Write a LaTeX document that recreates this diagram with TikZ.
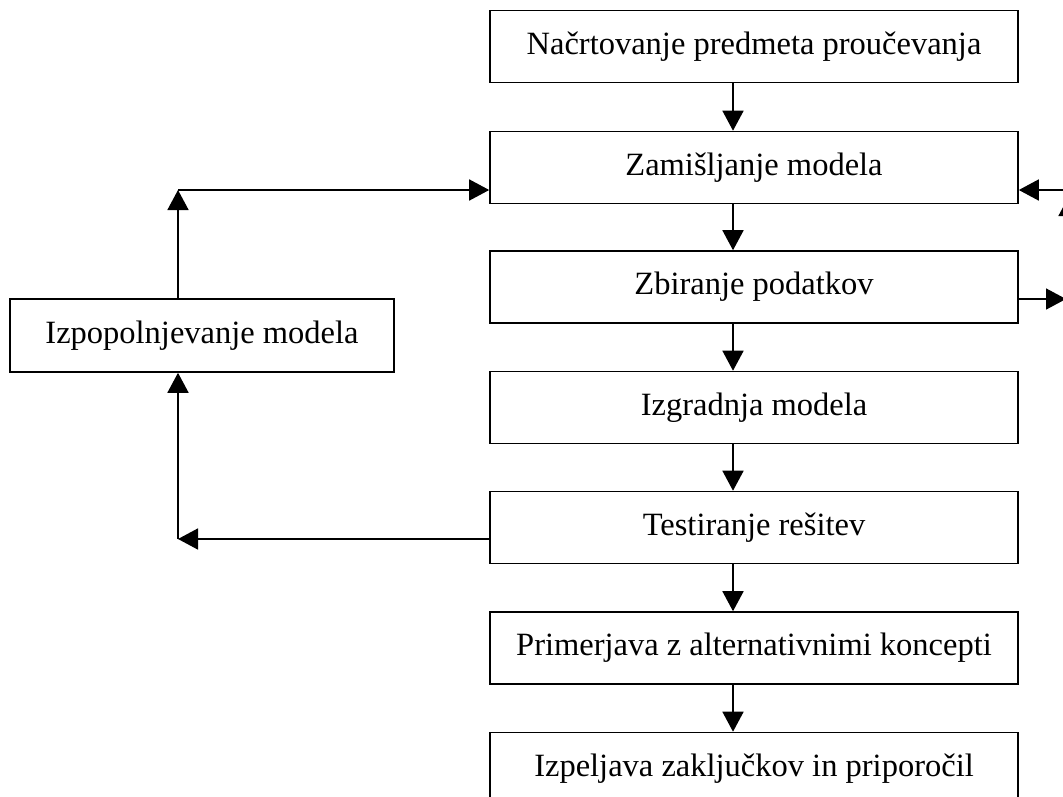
\documentclass[tikz,border=0pt]{standalone}
\usepackage{fontspec}
\setmainfont{Liberation Serif}
\usetikzlibrary{arrows.meta}

\tikzset{
  stepbox/.style={draw, line width=1.6pt, minimum width=528pt, minimum height=72pt,
    inner sep=0pt, font=\fontsize{32.5}{39}\selectfont},
  arr/.style={line width=1.6pt, -{Triangle[length=20pt,width=21pt]}}
}

\begin{document}
\begin{tikzpicture}[x=1pt,y=-1pt]
			\useasboundingbox (0,0) rectangle (1063,796);
			\clip (0,0) rectangle (1063,796);

			% main column
			\node[stepbox] (plan)   at (754,46.5)  {Načrtovanje predmeta proučevanja};
			\node[stepbox] (zamisl) at (754,167.5) {Zamišljanje modela};
			\node[stepbox] (zbir)   at (754,287)   {Zbiranje podatkov};
			\node[stepbox] (izgr)   at (754,407.5) {Izgradnja modela};
			\node[stepbox] (test)   at (754,527.5) {Testiranje rešitev};
			\node[stepbox] (prim)   at (754,648)   {Primerjava z alternativnimi koncepti};
			\node[stepbox] (izpelj) at (754,768.5) {Izpeljava zaključkov in priporočil};

			% side box
			\node[stepbox, minimum width=384pt, minimum height=73pt] (izpop) at (202,335.5) {Izpopolnjevanje modela};

			\coordinate (ax)   at (733,0);
			\coordinate (ltop) at (178,190);
			\coordinate (lbot) at (178,539);
			\coordinate (rmid) at (1066,299);
			\coordinate (rin)  at (1110,190);
			\coordinate (rup)  at (1069,196);
			\coordinate (rlow) at (1069,280);

			\draw[arr] (ax |- plan.south) -- (ax |- zamisl.north);
			\draw[arr] (ax |- zamisl.south) -- (ax |- zbir.north);
			\draw[arr] (ax |- zbir.south) -- (ax |- izgr.north);
			\draw[arr] (ax |- izgr.south) -- (ax |- test.north);
			\draw[arr] (ax |- test.south) -- (ax |- prim.north);
			\draw[arr] (ax |- prim.south) -- (ax |- izpelj.north);

			% loop on the left
			\draw[arr] (lbot -| test.west) -- (lbot);
			\draw[arr] (lbot) -- (lbot |- izpop.south);
			\draw[arr] (ltop |- izpop.north) -- (ltop);
			\draw[arr] (ltop) -- (ltop -| zamisl.west);

			% loop on the right (cut off)
			\draw[arr] (rmid -| zbir.east) -- (rmid);
			\draw[arr] (rin) -- (rin -| zamisl.east);
			\draw[arr] (rlow) -- (rup);
\end{tikzpicture}
\end{document}
